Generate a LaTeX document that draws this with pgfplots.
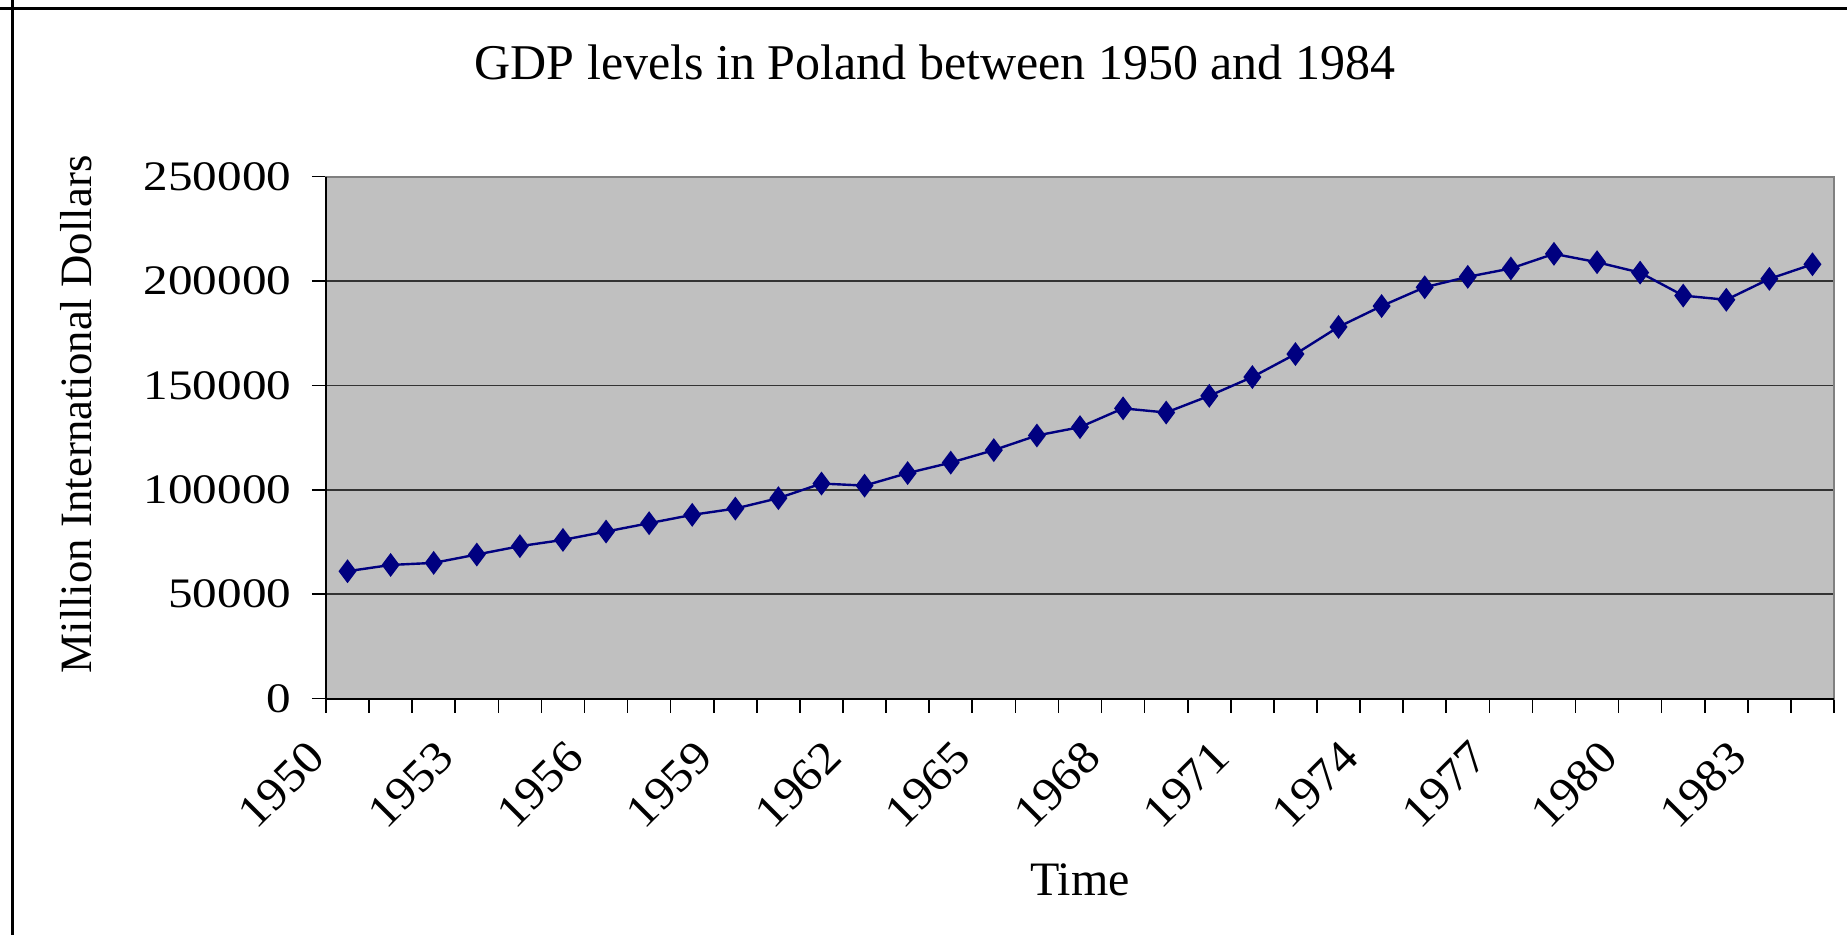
\documentclass[border=0pt]{standalone}
\usepackage{pgfplots}
\pgfplotsset{compat=1.18}
\usepackage{fontspec}
\setmainfont{Liberation Serif}
\newfontfamily\widefont[FakeStretch=1.17]{Liberation Serif}
\newfontfamily\xwidefont[FakeStretch=1.08]{Liberation Serif}
\definecolor{plotbg}{HTML}{C0C0C0}
\definecolor{navy}{HTML}{000080}
\definecolor{gridc}{HTML}{333333}
\begin{document}
\begin{tikzpicture}
\path[use as bounding box] (0,0) rectangle (461.75bp,233.75bp);
\draw[black, line width=0.75bp] (0,231.5bp) -- (461.75bp,231.5bp);
\draw[black, line width=0.75bp] (3bp,0) -- (3bp,233.75bp);
\begin{axis}[
  at={(81.5bp,59.1bp)}, anchor=south west,
  scale only axis, width=377bp, height=130.5bp,
  xmin=-0.5, xmax=34.5, ymin=0, ymax=250000,
  axis background/.style={fill=plotbg},
  axis line style={draw=gray, line width=0.5bp},
  tick align=outside, xtick pos=bottom, ytick pos=left,
  tick style={black, line width=0.4bp},
  major tick length=3.5bp,
  xtick={-0.5,0.5,...,34.5}, xticklabels={},
  extra x ticks={0,3,...,33},
  extra x tick labels={1950,1953,1956,1959,1962,1965,1968,1971,1974,1977,1980,1983},
  extra x tick style={major tick length=0pt, grid=none,
    xticklabel style={inner sep=0pt, xshift=-10.5bp, yshift=-9.75bp, rotate=45, anchor=north east, font=\fontsize{11.5bp}{13bp}\xwidefont}},
  ytick={0,50000,...,250000},
  yticklabel style={font=\fontsize{10.5bp}{12bp}\widefont, inner sep=0pt, xshift=-5bp},
  /pgf/number format/assume math mode=true,
  /pgf/number format/.cd, fixed, 1000 sep={}, /pgfplots/.cd,
  scaled y ticks=false,
  ymajorgrids, major grid style={gridc, line width=0.4bp},
  clip=false,
]
\addplot[navy, line width=0.6bp, mark=diamond*, mark size=2.5bp, mark options={fill=navy, draw=navy}] table {
x y
0 61000
1 64000
2 65000
3 69000
4 73000
5 76000
6 80000
7 84000
8 88000
9 91000
10 96000
11 103000
12 102000
13 108000
14 113000
15 119000
16 126000
17 130000
18 139000
19 137000
20 145000
21 154000
22 165000
23 178000
24 188000
25 197000
26 202000
27 206000
28 213000
29 209000
30 204000
31 193000
32 191000
33 201000
34 208000
};
\draw[black, line width=0.5bp] (rel axis cs:0,1) -- (rel axis cs:0,0) -- (rel axis cs:1,0);
\end{axis}
\node[anchor=base, font=\fontsize{12.5bp}{14bp}\selectfont] at (233.75bp,213.75bp) {GDP levels in Poland between 1950 and 1984};
\node[anchor=base, font=\fontsize{12bp}{14bp}\selectfont] at (270bp,10bp) {Time};
\node[rotate=90, anchor=base west, inner sep=0pt, font=\fontsize{11.2bp}{13bp}\selectfont] at (22.75bp,65.25bp) {Million International Dollars};
\end{tikzpicture}
\end{document}
